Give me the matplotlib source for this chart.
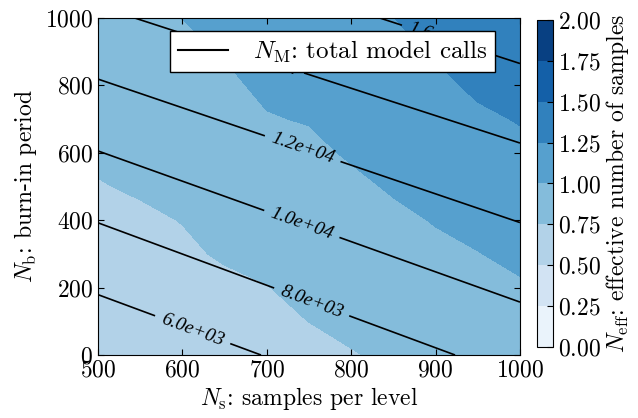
import numpy as np
import matplotlib
matplotlib.use("Agg")
import matplotlib.pyplot as plt
from matplotlib.lines import Line2D

# ==========================================================
# Estilo
# ==========================================================

plt.rcParams["font.family"] = "serif"
plt.rcParams["font.serif"] = ["cmr10"]
plt.rcParams["mathtext.fontset"] = "cm"
plt.rcParams["axes.formatter.use_mathtext"] = True
plt.rcParams["font.size"] = 17
plt.rcParams["xtick.direction"] = "in"
plt.rcParams["ytick.direction"] = "in"
plt.rcParams["xtick.top"] = True
plt.rcParams["ytick.right"] = True
plt.rcParams["xtick.major.size"] = 4
plt.rcParams["ytick.major.size"] = 4

# ==========================================================
# Datos
# ==========================================================

samples_per_level = [500, 550, 600, 650, 700, 750, 800, 850, 900, 950, 1000]
burn_in = [0, 100, 200, 300, 400, 500, 600, 700, 800, 900, 1000]

# N_eff, rows = burn_in, columns = samples_per_level
n_eff = [
    [0.55, 0.58, 0.60, 0.62, 0.64, 0.68, 0.74, 0.78, 0.81, 0.84, 0.88],
    [0.58, 0.61, 0.64, 0.66, 0.69, 0.752, 0.79, 0.82, 0.86, 0.89, 0.93],
    [0.62, 0.65, 0.68, 0.71, 0.745, 0.80, 0.83, 0.87, 0.91, 0.94, 0.98],
    [0.66, 0.69, 0.72, 0.77, 0.80, 0.84, 0.87, 0.91, 0.96, 0.995, 1.04],
    [0.70, 0.72, 0.755, 0.81, 0.84, 0.88, 0.91, 0.96, 1.01, 1.05, 1.09],
    [0.74, 0.77, 0.79, 0.85, 0.89, 0.92, 0.96, 1.02, 1.06, 1.10, 1.15],
    [0.78, 0.81, 0.83, 0.89, 0.94, 0.96, 1.02, 1.07, 1.11, 1.16, 1.21],
    [0.81, 0.85, 0.87, 0.93, 0.99, 1.01, 1.07, 1.12, 1.16, 1.22, 1.26],
    [0.84, 0.89, 0.91, 0.97, 1.03, 1.05, 1.11, 1.17, 1.21, 1.28, 1.32],
    [0.87, 0.93, 0.955, 1.01, 1.07, 1.10, 1.16, 1.21, 1.265, 1.33, 1.37],
    [0.90, 0.97, 1.002, 1.05, 1.10, 1.14, 1.21, 1.248, 1.31, 1.38, 1.42],
]

# N_M at the corners of the domain
calls_ns = [500, 1000]
calls_nb = [0, 1000]
model_calls = [
    [4320, 8669],
    [13700, 17144],
]

neff_levels = [0.0, 0.25, 0.5, 0.75, 1.0, 1.25, 1.5, 1.75, 2.0]
calls_levels = [6000, 8000, 10000, 12000, 14000, 16000]
label_spots = [(612, 74), (754, 163), (744, 406), (744, 623), (700, 880), (905, 940)]

# ==========================================================
# Figura
# ==========================================================

fig = plt.figure(figsize=(6.38, 4.18), dpi=100)
ax = fig.add_axes([0.1536, 0.1507, 0.6614, 0.8062])
cax = fig.add_axes([0.8417, 0.1699, 0.0251, 0.7823])

filled = ax.contourf(
    samples_per_level,
    burn_in,
    n_eff,
    levels=neff_levels,
    cmap="Blues"
)

lines = ax.contour(
    calls_ns,
    calls_nb,
    model_calls,
    levels=calls_levels,
    colors="black",
    linewidths=1.2
)

labels = ax.clabel(
    lines,
    fmt="%.1e",
    fontsize=14,
    inline=True,
    inline_spacing=6,
    manual=label_spots
)

for t in labels:
    t.set_fontfamily("Liberation Serif")
    t.set_fontstyle("italic")

ax.set_xlim(500, 1000)
ax.set_ylim(0, 1000)

ax.set_xlabel(r"$N_{\mathrm{s}}$: samples per level", labelpad=2)
ax.set_ylabel(r"$N_{\mathrm{b}}$: burn-in period", labelpad=4)

handle = Line2D([], [], color="black", linewidth=1.5)
ax.legend(
    [handle],
    [r"$N_{\mathrm{M}}$: total model calls"],
    loc="upper right",
    bbox_to_anchor=(0.94, 0.961),
    borderaxespad=0,
    borderpad=0.3,
    handlelength=2.0,
    handletextpad=1.0,
    fontsize=18,
    fancybox=False,
    edgecolor="black",
    framealpha=1
)

cbar = fig.colorbar(filled, cax=cax)
cbar.set_label(r"$N_{\mathrm{eff}}$: effective number of samples", labelpad=2)
cbar.ax.tick_params(direction="in", length=4)

fig.savefig("out.png", dpi=100)
